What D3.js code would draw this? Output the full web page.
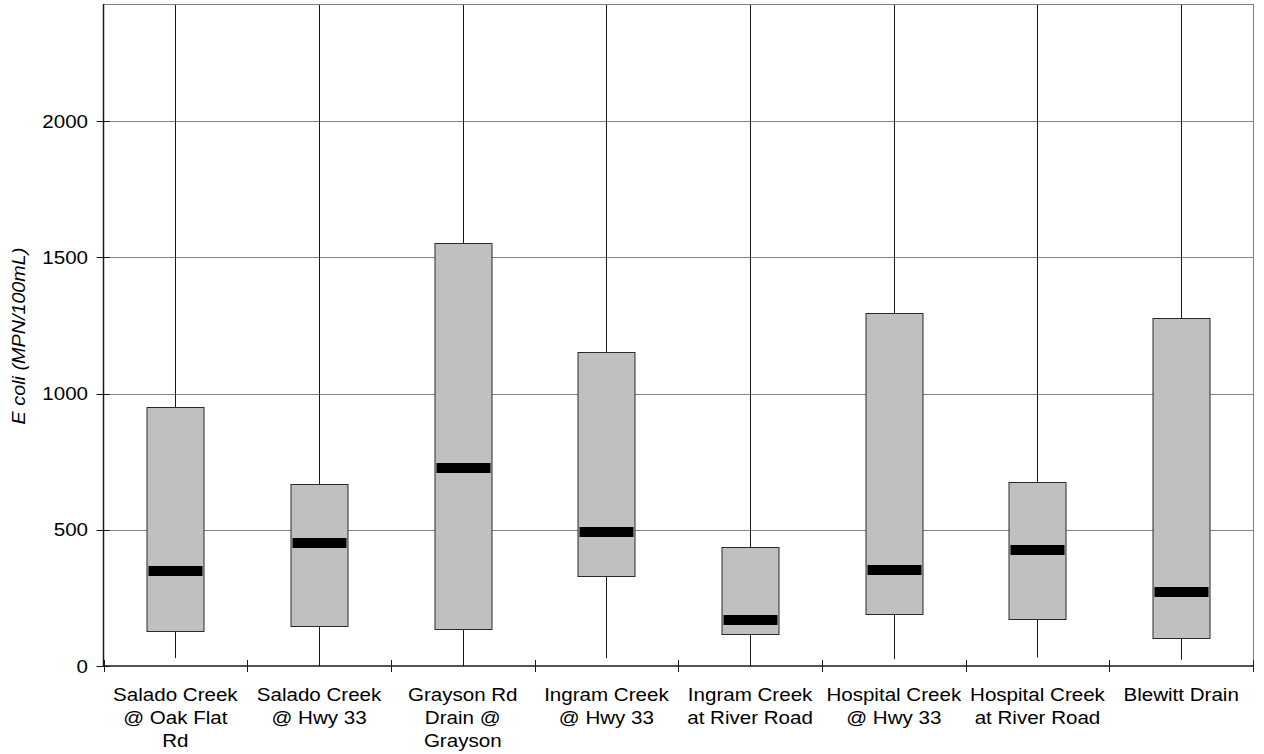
<!DOCTYPE html>
<html>
<head>
<meta charset="utf-8">
<script src="https://cdn.jsdelivr.net/npm/d3@7"></script>
<style>
  html, body { margin: 0; padding: 0; background: #fff; }
  svg { display: block; }
  text { font-family: "Liberation Sans", Arial, sans-serif; fill: #000; }
</style>
</head>
<body>
<svg id="chart" width="1264" height="754"></svg>
<script>
// Monitoring sites along the x axis
const categories = [
  "Salado Creek @ Oak Flat Rd",
  "Salado Creek @ Hwy 33",
  "Grayson Rd Drain @ Grayson",
  "Ingram Creek @ Hwy 33",
  "Ingram Creek at River Road",
  "Hospital Creek @ Hwy 33",
  "Hospital Creek at River Road",
  "Blewitt Drain"
];
// Wrapped label lines for each site
const labelLines = [
  ["Salado Creek", "@ Oak Flat", "Rd"],
  ["Salado Creek", "@ Hwy 33"],
  ["Grayson Rd", "Drain @", "Grayson"],
  ["Ingram Creek", "@ Hwy 33"],
  ["Ingram Creek", "at River Road"],
  ["Hospital Creek", "@ Hwy 33"],
  ["Hospital Creek", "at River Road"],
  ["Blewitt Drain"]
];
// E. coli summary statistics (MPN/100mL)
const whiskerLow  = [29, 0, 0, 29, 0, 25, 31, 23];
const q1          = [130, 146, 135, 330, 117, 190, 172, 102];
const median      = [348, 453, 728, 492, 170, 353, 424, 273];
const q3          = [952, 667, 1552, 1152, 436, 1297, 677, 1277];
const whiskerHigh = [2430, 2430, 2430, 2430, 2430, 2430, 2430, 2430];
// Value axis
const yTicks = [0, 500, 1000, 1500, 2000];
const yMax = 2430;
const yTitle = "E coli (MPN/100mL)";

const svg = d3.select("#chart");
const plot = { left: 103.5, right: 1253, top: 4, bottom: 666 };

const x = d3.scaleBand()
  .domain(categories)
  .range([plot.left, plot.right])
  .paddingInner(0)
  .paddingOuter(0);

const y = d3.scaleLinear()
  .domain([0, yMax])
  .range([plot.bottom, plot.top]);

const gridColor = "#808080";
const axisColor = "#1a1a1a";
const stretch = 1.1;

svg.append("defs").append("clipPath").attr("id", "plotClip")
  .append("rect")
  .attr("x", plot.left).attr("y", plot.top)
  .attr("width", plot.right - plot.left)
  .attr("height", plot.bottom - plot.top);

// Horizontal gridlines
svg.append("g")
  .selectAll("line")
  .data(yTicks.filter(d => d > 0))
  .join("line")
  .attr("x1", plot.left).attr("x2", plot.right)
  .attr("y1", d => Math.round(y(d)) + 0.5)
  .attr("y2", d => Math.round(y(d)) + 0.5)
  .attr("stroke", gridColor)
  .attr("stroke-width", 1);

// Box plots
const rows = categories.map((c, i) => ({
  c, lo: whiskerLow[i], q1: q1[i], med: median[i], q3: q3[i], hi: whiskerHigh[i]
}));

const boxW = Math.round(x.bandwidth() * 0.4);
const cx = d => Math.round(x(d.c) + x.bandwidth() / 2) + 0.5;

const boxes = svg.append("g").attr("clip-path", "url(#plotClip)");

boxes.selectAll("line.whisker")
  .data(rows)
  .join("line")
  .attr("class", "whisker")
  .attr("x1", cx).attr("x2", cx)
  .attr("y1", d => y(d.lo))
  .attr("y2", d => y(d.hi))
  .attr("stroke", "#1a1a1a")
  .attr("stroke-width", 1);

boxes.selectAll("rect.box")
  .data(rows)
  .join("rect")
  .attr("class", "box")
  .attr("x", d => cx(d) - boxW / 2)
  .attr("y", d => Math.round(y(d.q3)) + 0.5)
  .attr("width", boxW)
  .attr("height", d => Math.round(y(d.q1)) - Math.round(y(d.q3)))
  .attr("fill", "#c0c0c0")
  .attr("stroke", "#2a2a2a")
  .attr("stroke-width", 1);

boxes.selectAll("rect.median")
  .data(rows)
  .join("rect")
  .attr("class", "median")
  .attr("x", d => cx(d) - boxW / 2 + 1.5)
  .attr("y", d => Math.round(y(d.med) - 5))
  .attr("width", boxW - 3)
  .attr("height", 10)
  .attr("fill", "#000");

// Plot frame: light top/right, dark left/bottom axes
svg.append("line")
  .attr("x1", plot.left).attr("x2", plot.right)
  .attr("y1", plot.top + 0.5).attr("y2", plot.top + 0.5)
  .attr("stroke", gridColor);
svg.append("line")
  .attr("x1", plot.right + 0.5).attr("x2", plot.right + 0.5)
  .attr("y1", plot.top).attr("y2", plot.bottom)
  .attr("stroke", gridColor);

// Y axis
const yAxis = svg.append("g");
yAxis.append("line")
  .attr("x1", plot.left).attr("x2", plot.left)
  .attr("y1", plot.top).attr("y2", plot.bottom + 1)
  .attr("stroke", axisColor).attr("stroke-width", 1.5);
yAxis.selectAll("line.tick")
  .data(yTicks)
  .join("line")
  .attr("class", "tick")
  .attr("x1", plot.left - 7).attr("x2", plot.left + 6)
  .attr("y1", d => Math.round(y(d)) + 0.5)
  .attr("y2", d => Math.round(y(d)) + 0.5)
  .attr("stroke", axisColor);
yAxis.selectAll("text")
  .data(yTicks)
  .join("text")
  .attr("transform", d => `translate(88,${y(d)}) scale(${stretch},1)`)
  .attr("text-anchor", "end")
  .attr("dy", "0.35em")
  .style("font-size", "18.7px")
  .text(d => d);

// X axis
const xAxis = svg.append("g");
xAxis.append("line")
  .attr("x1", plot.left).attr("x2", plot.right + 1)
  .attr("y1", plot.bottom).attr("y2", plot.bottom)
  .attr("stroke", axisColor).attr("stroke-width", 1.5);
const bounds = categories.map(c => x(c)).concat([x.range()[1]]);
xAxis.selectAll("line.tick")
  .data(bounds)
  .join("line")
  .attr("class", "tick")
  .attr("x1", d => Math.round(d) + 0.5).attr("x2", d => Math.round(d) + 0.5)
  .attr("y1", plot.bottom - 6).attr("y2", plot.bottom + 6)
  .attr("stroke", axisColor);

const labels = xAxis.selectAll("g.label")
  .data(categories)
  .join("g")
  .attr("class", "label")
  .attr("transform", d => `translate(${x(d) + x.bandwidth() / 2},0)`);
labels.each(function (d, i) {
  d3.select(this).selectAll("text")
    .data(labelLines[i])
    .join("text")
    .attr("transform", (t, j) => `translate(0,${700.7 + j * 23}) scale(${stretch},1)`)
    .attr("text-anchor", "middle")
    .style("font-size", "18.7px")
    .text(t => t);
});

// Y axis title
svg.append("text")
  .attr("transform", `translate(25,336) rotate(-90) scale(1.13,1)`)
  .attr("text-anchor", "middle")
  .style("font-size", "17.5px")
  .style("font-style", "italic")
  .text(yTitle);
</script>
</body>
</html>
